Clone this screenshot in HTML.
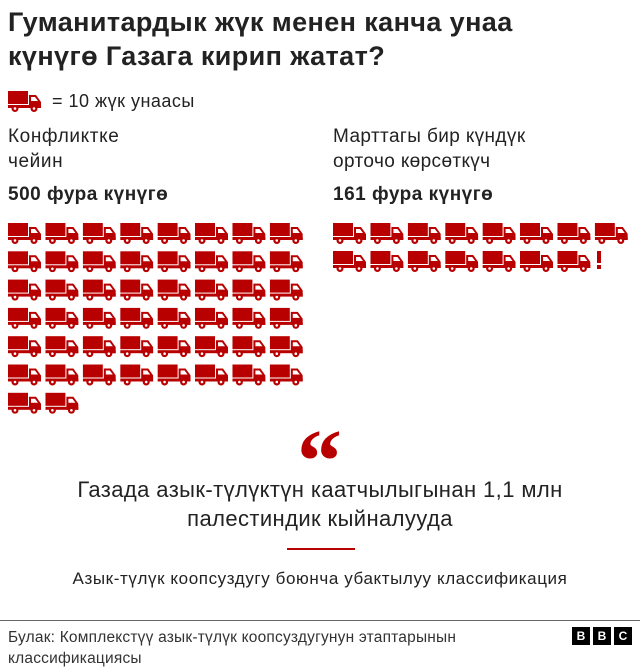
<!DOCTYPE html>
<html><head><meta charset="utf-8"><style>
body{margin:0;width:640px;height:671px;background:#fff;font-family:"Liberation Sans",sans-serif;color:#222;position:relative;overflow:hidden}
.a{position:absolute;white-space:nowrap}
</style></head><body>
<svg width="0" height="0" style="position:absolute"><symbol id="t" viewBox="0 0 33 22">
<rect x="0" y="1" width="20" height="13" fill="#b80000"/>
<path d="M21 5h7l5 7v6H21z" fill="#b80000"/>
<path d="M23 7h4l3 4h-7z" fill="#fff"/>
<rect x="0" y="15" width="33" height="3" fill="#b80000"/>
<circle cx="7" cy="18.5" r="3.5" fill="#b80000"/><circle cx="7" cy="18.5" r="1.3" fill="#fff"/>
<circle cx="26" cy="18.5" r="3.5" fill="#b80000"/><circle cx="26" cy="18.5" r="1.3" fill="#fff"/>
</symbol></svg>
<div class="a" style="left:8px;top:5px;font-size:27px;letter-spacing:0.4px;font-weight:bold;line-height:34px">Гуманитардык жүк менен канча унаа<br>күнүгө Газага кирип жатат?</div>
<svg class="a" style="left:8px;top:90px" width="33" height="22"><use href="#t"/></svg>
<div class="a" style="left:52px;top:91px;font-size:18px;letter-spacing:0.5px">= 10 жүк унаасы</div>
<div class="a" style="left:8px;top:124px;font-size:19px;letter-spacing:0.6px;line-height:25px">Конфликтке<br>чейин</div>
<div class="a" style="left:8px;top:184px;font-size:19px;letter-spacing:0.5px;font-weight:bold">500 фура күнүгө</div>
<div class="a" style="left:333px;top:124px;font-size:19px;letter-spacing:0.4px;line-height:25px">Марттагы бир күндүк<br>орточо көрсөткүч</div>
<div class="a" style="left:333px;top:184px;font-size:19px;letter-spacing:0.5px;font-weight:bold">161 фура күнүгө</div>
<svg class="a" style="left:0;top:0" width="640" height="430" id="g"></svg>
<div class="a" style="left:297px;top:412px;font-size:90px;line-height:100px;font-weight:bold;color:#b80000;font-family:'Liberation Serif',serif">“</div>
<div class="a" style="left:0;width:640px;text-align:center;top:475px;font-size:22px;letter-spacing:0.4px;line-height:29px">Газада азык-түлүктүн каатчылыгынан 1,1 млн<br>палестиндик кыйналууда</div>
<div class="a" style="left:287px;top:548px;width:68px;height:2px;background:#b80000"></div>
<div class="a" style="left:0;width:640px;text-align:center;top:569px;font-size:17px;letter-spacing:0.6px">Азык-түлүк коопсуздугу боюнча убактылуу классификация</div>
<div class="a" style="left:0;top:620px;width:640px;height:1px;background:#666"></div>
<div class="a" style="left:8px;top:627px;font-size:15.5px;letter-spacing:0.2px;line-height:21px;color:#333">Булак: Комплекстүү азык-түлүк  коопсуздугунун этаптарынын<br>классификациясы</div>
<div class="a" style="left:572px;top:627px;width:18px;height:18px;background:#000;color:#fff;font-size:12px;font-weight:bold;text-align:center;line-height:18px">B</div>
<div class="a" style="left:593px;top:627px;width:18px;height:18px;background:#000;color:#fff;font-size:12px;font-weight:bold;text-align:center;line-height:18px">B</div>
<div class="a" style="left:614px;top:627px;width:18px;height:18px;background:#000;color:#fff;font-size:12px;font-weight:bold;text-align:center;line-height:18px">C</div>
<script>
var g=document.getElementById('g'),s='';
function t(x,y){s+='<use href="#t" x="'+x+'" y="'+y+'" width="33" height="22"/>';}
for(var i=0;i<50;i++)t(8+(i%8)*37.4,222+Math.floor(i/8)*28.3);
for(var i=0;i<15;i++)t(333+(i%8)*37.4,222+Math.floor(i/8)*28);
s+='<rect x="597" y="251" width="4" height="12" fill="#b80000"/><rect x="597" y="265" width="4" height="4" fill="#b80000"/>';
g.innerHTML=s;
</script>
</body></html>
